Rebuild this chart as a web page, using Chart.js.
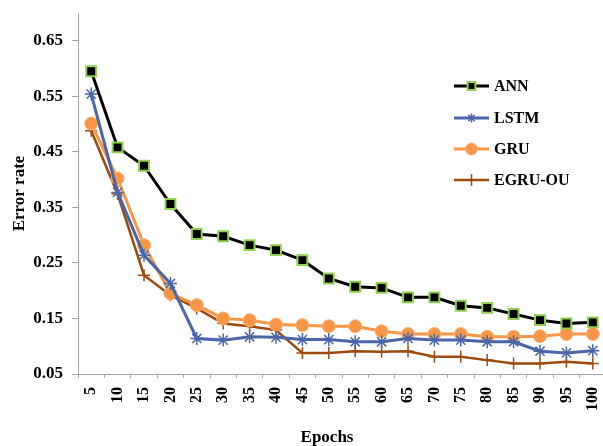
<!DOCTYPE html>
<html>
<head>
<meta charset="utf-8">
<script src="https://cdn.jsdelivr.net/npm/chart.js@4/dist/chart.umd.min.js"></script>
<style>
  html, body { margin: 0; padding: 0; background: #fff; overflow: hidden; }
  #wrap { width: 603px; height: 446px; position: relative; overflow: hidden; }
  #c { display: block; }
</style>
</head>
<body>
<div id="wrap"><canvas id="c" width="615" height="446"></canvas></div>
<script>
// Training epochs on the x axis
const epochs = [5, 10, 15, 20, 25, 30, 35, 40, 45, 50, 55, 60, 65, 70, 75, 80, 85, 90, 95, 100];

// Error rate per model
const annErr  = [0.595, 0.458, 0.425, 0.356, 0.302, 0.298, 0.282, 0.273, 0.255, 0.222,
                 0.207, 0.205, 0.188, 0.188, 0.173, 0.169, 0.158, 0.147, 0.141, 0.143];
const lstmErr = [0.554, 0.377, 0.264, 0.213, 0.114, 0.111, 0.117, 0.116, 0.112, 0.112,
                 0.108, 0.108, 0.114, 0.111, 0.111, 0.108, 0.108, 0.091, 0.088, 0.092];
const gruErr  = [0.501, 0.402, 0.282, 0.195, 0.174, 0.150, 0.147, 0.139, 0.138, 0.136,
                 0.136, 0.127, 0.122, 0.122, 0.122, 0.117, 0.117, 0.118, 0.122, 0.122];
const egruErr = [0.488, 0.374, 0.228, 0.192, 0.168, 0.141, 0.136, 0.129, 0.088, 0.088,
                 0.091, 0.090, 0.091, 0.081, 0.081, 0.075, 0.069, 0.069, 0.072, 0.069];

// Y-axis tick values
const yTicks = [0.05, 0.15, 0.25, 0.35, 0.45, 0.55, 0.65];

const serif = "'Liberation Serif', 'Times New Roman', serif";
const axisGray = '#a6a6a6';

// Keep the plot area flush with the fixed layout padding (no extra room for edge labels)
const noScalePadding = {
  id: 'noScalePadding',
  beforeLayout(chart) {
    Object.values(chart.scales).forEach(s => {
      s.getPadding = () => ({ left: 0, top: 0, right: 0, bottom: 0 });
    });
  }
};

// Legend drawn inside the plot area (line segment, marker, bold label) and the x-axis caption
const insideLegend = {
  id: 'insideLegend',
  afterDraw(chart) {
    const ctx = chart.ctx;
    const rows = [86, 118, 149, 180];
    const x0 = 454, x1 = 489, tx = 494;
    chart.data.datasets.forEach((ds, i) => {
      const y = rows[i];
      ctx.save();
      ctx.strokeStyle = ds.borderColor;
      ctx.lineWidth = ds.borderWidth;
      ctx.beginPath();
      ctx.moveTo(x0, y);
      ctx.lineTo(x1, y);
      ctx.stroke();
      ctx.restore();
      ctx.save();
      ctx.fillStyle = ds.pointBackgroundColor;
      ctx.strokeStyle = ds.pointBorderColor;
      ctx.lineWidth = ds.pointBorderWidth;
      Chart.helpers.drawPoint(ctx, {
        pointStyle: ds.pointStyle,
        radius: ds.legendRadius,
        borderWidth: ds.pointBorderWidth,
        rotation: 0
      }, (x0 + x1) / 2, y);
      ctx.restore();
      ctx.save();
      ctx.fillStyle = '#000';
      ctx.font = 'bold 16px ' + serif;
      ctx.textBaseline = 'middle';
      ctx.textAlign = 'left';
      ctx.fillText(ds.label, tx, y + 1);
      ctx.restore();
    });
    ctx.save();
    ctx.fillStyle = '#000';
    ctx.font = 'bold 17px ' + serif;
    ctx.textBaseline = 'middle';
    ctx.textAlign = 'center';
    ctx.fillText('Epochs', 327, 438);
    ctx.restore();
  }
};

new Chart(document.getElementById('c'), {
  type: 'line',
  data: {
    labels: epochs,
    datasets: [
      {
        label: 'ANN', data: annErr,
        borderColor: '#000000', borderWidth: 3,
        pointStyle: 'rect', pointRadius: 7, legendRadius: 5.5,
        pointBackgroundColor: '#000000', pointBorderColor: '#92d050', pointBorderWidth: 2
      },
      {
        label: 'LSTM', data: lstmErr,
        borderColor: '#4a66a8', borderWidth: 3,
        pointStyle: 'star', pointRadius: 6.5, legendRadius: 4.5,
        pointBackgroundColor: '#4a66a8', pointBorderColor: '#4a66a8', pointBorderWidth: 1.5
      },
      {
        label: 'GRU', data: gruErr,
        borderColor: '#f79646', borderWidth: 3,
        pointStyle: 'circle', pointRadius: 6.5, legendRadius: 6,
        pointBackgroundColor: '#f79646', pointBorderColor: '#fab27a', pointBorderWidth: 1
      },
      {
        label: 'EGRU-OU', data: egruErr,
        borderColor: '#9c4a0e', borderWidth: 2.5,
        pointStyle: 'cross', pointRadius: 6, legendRadius: 6,
        pointBackgroundColor: '#9c4a0e', pointBorderColor: '#9c4a0e', pointBorderWidth: 1.5
      }
    ]
  },
  options: {
    responsive: false,
    animation: false,
    layout: { padding: { top: 13, right: 0, left: 0, bottom: 0 } },
    plugins: {
      legend: { display: false },
      tooltip: { enabled: false }
    },
    elements: { line: { tension: 0 } },
    scales: {
      x: {
        type: 'category',
        offset: true,
        border: { display: true, color: axisGray, width: 1 },
        grid: { display: true, drawOnChartArea: false, offset: true, tickLength: 4, color: axisGray },
        ticks: {
          color: '#000', minRotation: 90, maxRotation: 90, padding: 9, autoSkip: false,
          font: { family: serif, weight: 'bold', size: 16 }
        },
        afterFit(scale) { scale.height = 72; }
      },
      y: {
        min: 0.05, max: 0.70,
        border: { display: true, color: axisGray, width: 1 },
        grid: { display: true, drawOnChartArea: false, tickLength: 6, color: axisGray },
        afterBuildTicks(scale) { scale.ticks = yTicks.map(v => ({ value: v })); },
        ticks: {
          color: '#000', padding: 9,
          font: { family: serif, weight: 'bold', size: 17 },
          callback: (v) => Number(v).toFixed(2)
        },
        title: {
          display: true, text: 'Error rate', color: '#000',
          font: { family: serif, weight: 'bold', size: 17 },
          padding: { top: 9, bottom: 0 }
        },
        afterFit(scale) { scale.width = 78; }
      }
    }
  },
  plugins: [noScalePadding, insideLegend]
});
</script>
</body>
</html>
